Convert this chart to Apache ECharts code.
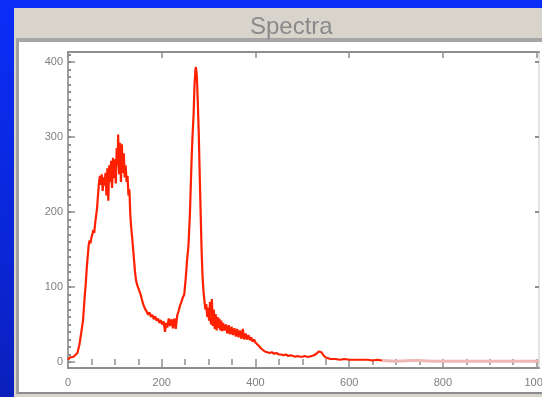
<!DOCTYPE html>
<html>
<head>
<meta charset="utf-8">
<script src="https://cdn.jsdelivr.net/npm/echarts@6/dist/echarts.min.js"></script>
<style>
  html, body { margin: 0; padding: 0; }
  body { width: 542px; height: 397px; overflow: hidden; position: relative;
         background: linear-gradient(to bottom, #0a2ef8 0%, #0a26d8 60%, #0b20bc 100%); }
  #win { position: absolute; left: 14px; top: 8px; right: 0; bottom: 0; background: #d8d4cc; }
  #panel { position: absolute; left: 16px; top: 38px; width: 526px; height: 356px; box-sizing: border-box;
           background: #ffffff; border-top: 4px solid #a6a6a6; border-left: 3px solid #a0a0a0;
           border-bottom: 2px solid #8c8c8c; }
  #chart { position: absolute; left: 0; top: 0; width: 542px; height: 397px; }
</style>
</head>
<body>
<div id="win"></div>
<div id="panel"></div>
<div id="chart"></div>
<script>
// ---- data ----
const titleText = 'Spectra';
const xTickLabels = [0, 200, 400, 600, 800, 1000];
const xMinorTicks = [0,50,100,150,200,250,300,350,400,450,500,550,600,650,700,750,800,850,900,950,1000];
const yTickLabels = [0, 100, 200, 300, 400];
const yMinorTicks = [0,10,20,30,40,50,60,70,80,90,100,110,120,130,140,150,160,170,180,190,200,
                     210,220,230,240,250,260,270,280,290,300,310,320,330,340,350,360,370,380,390,400,410];

const channel = [0,4,8,12,16,20,24,28,32,36,38,40,42,44,46,48,50,52,54,56,58,60,62,64,66,68,70,72,74,76,78,80,
  82,84,86,88,90,92,94,96,98,100,102,104,106,107,109,111,113,115,117,119,121,123,125,127,129,131,133,135,137,139,
  141,143,145,147,149,151,153,155,157,159,161,163,165,168,171,174,177,180,183,186,189,192,195,198,201,204,207,209,
  212,215,218,221,224,227,230,233,236,239,242,245,248,251,254,257,260,262,264,266,268,270,272,273,275,277,279,281,
  283,285,287,289,291,293,295,297,299,301,303,305,307,309,311,313,315,317,319,321,323,325,327,329,331,334,337,340,
  343,346,349,352,355,358,361,364,367,370,373,376,379,382,385,388,391,394,397,400,404,408,412,416,420,425,430,435,
  440,445,450,455,460,465,470,475,480,485,490,495,500,505,510,515,520,525,530,535,538,541,545,550,555,560,570,580,
  590,600,610,620,630,640,650,660,670];
const counts = [3,6,4,7,5,12,22,38,55,90,105,125,140,155,162,158,166,170,176,172,185,195,205,222,238,248,236,250,228,246,235,252,
  222,258,215,262,240,268,232,272,245,270,238,285,262,303,250,292,240,290,252,278,246,262,240,248,222,230,195,178,165,150,
  135,120,110,104,100,97,93,90,85,80,76,73,70,67,63,66,60,63,57,61,55,58,52,56,50,54,40,52,
  46,58,48,57,45,58,44,62,68,75,80,86,90,110,135,155,195,235,275,305,330,370,390,393,380,345,305,250,
  200,150,115,95,82,70,77,60,72,55,80,50,84,48,70,44,64,42,60,45,58,42,55,41,52,42,50,38,
  49,37,47,36,45,34,44,33,42,31,44,30,38,30,36,29,33,27,30,26,24,21,18,16,14,13,12,13,
  11,12,10,10,9,10,8,9,8,7,8,7,7,8,7,7,8,9,11,14,16,13,9,6,5,4,4,3,
  4,3,3,3,3,3,2,3,2];
const tailChannel = [670, 700, 735, 745, 780, 820, 860, 900, 940, 980, 1005];
const tailCounts  = [2, 1, 2, 2, 1, 1, 1, 1, 1, 1, 1];

// ---- build chart ----
const mainData = channel.map((c, i) => [c, counts[i]]);
const tailData = tailChannel.map((c, i) => [c, tailCounts[i]]);

const XMIN = 0, XMAX = 1005, YMIN = -8, YMAX = 413;
const axisGray = '#8e8e8e';
const labelStyle = { color: '#7f7f7f', fontSize: 11, fontFamily: 'Liberation Sans, Arial, sans-serif',
                     formatter: v => String(v) };

function xAx(opts) {
  return Object.assign({ type: 'value', min: XMIN, max: XMAX, splitLine: { show: false },
    axisLine: { show: false }, axisLabel: { show: false }, axisTick: { show: false } }, opts);
}
function yAx(opts) {
  return Object.assign({ type: 'value', min: YMIN, max: YMAX, splitLine: { show: false },
    axisLine: { show: false }, axisLabel: { show: false }, axisTick: { show: false } }, opts);
}

const chart = echarts.init(document.getElementById('chart'), null, { renderer: 'canvas' });
chart.setOption({
  animation: false,
  backgroundColor: 'transparent',
  title: {
    text: titleText, left: 245, top: 10,
    textStyle: { color: '#8a8a8a', fontSize: 24, fontWeight: 'normal', fontFamily: 'Liberation Sans, Arial, sans-serif' }
  },
  grid: { left: 68, right: 3, top: 52, bottom: 29, containLabel: false, outerBoundsMode: 'none', show: false },
  xAxis: [
    xAx({ position: 'bottom',
      axisLine: { show: true, onZero: false, lineStyle: { color: axisGray, width: 2 } },
      axisTick: { show: true, inside: true, length: 6, customValues: xTickLabels, lineStyle: { color: axisGray, width: 1.5 } },
      axisLabel: { show: true, customValues: xTickLabels, margin: 9, hideOverlap: false, ...labelStyle } }),
    xAx({ position: 'bottom',
      axisTick: { show: true, inside: true, length: 3, customValues: xMinorTicks, lineStyle: { color: axisGray, width: 1.5 } } }),
    xAx({ position: 'top',
      axisLine: { show: true, onZero: false, lineStyle: { color: axisGray, width: 2 } },
      axisTick: { show: true, inside: true, length: 6, customValues: xTickLabels, lineStyle: { color: axisGray, width: 1.5 } } }),
    xAx({ position: 'top',
      axisTick: { show: true, inside: true, length: 3, customValues: xMinorTicks, lineStyle: { color: axisGray, width: 1.5 } } })
  ],
  yAxis: [
    yAx({ position: 'left',
      axisLine: { show: true, onZero: false, lineStyle: { color: '#a0a0a0', width: 2 } },
      axisTick: { show: true, inside: true, length: 7, customValues: yTickLabels, lineStyle: { color: axisGray, width: 1.5 } },
      axisLabel: { show: true, customValues: yTickLabels, margin: 5, ...labelStyle } }),
    yAx({ position: 'left',
      axisTick: { show: true, inside: true, length: 3, customValues: yMinorTicks, lineStyle: { color: '#8a8a8a', width: 2 } } }),
    yAx({ position: 'right',
      axisLine: { show: true, onZero: false, lineStyle: { color: '#e4e4e4', width: 2 } },
      axisTick: { show: true, inside: true, length: 4, customValues: yTickLabels, lineStyle: { color: axisGray, width: 2 } } })
  ],
  series: [
    { type: 'line', name: 'tail', xAxisIndex: 0, yAxisIndex: 0, data: tailData, showSymbol: false,
      lineStyle: { color: '#efb6b6', width: 3 }, z: 2 },
    { type: 'line', name: 'spectrum', xAxisIndex: 0, yAxisIndex: 0, data: mainData, showSymbol: false,
      lineStyle: { color: '#ff2000', width: 2.2 }, z: 3 }
  ]
});
</script>
</body>
</html>
